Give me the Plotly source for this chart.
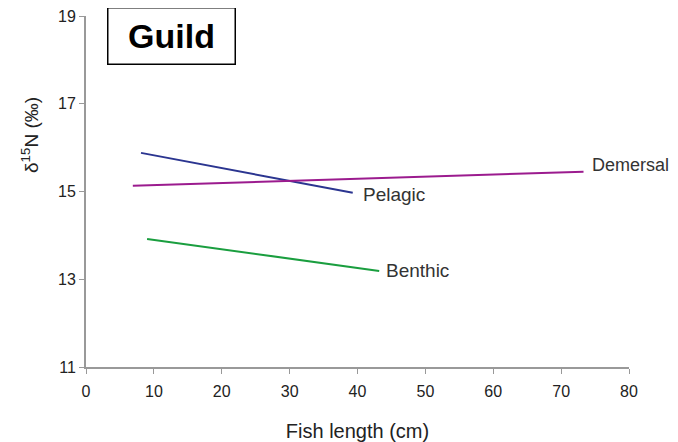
import plotly.graph_objects as go

guilds = ["Pelagic", "Demersal", "Benthic"]
length_start = [8.1, 6.9, 9.0]
length_end = [39.3, 73.3, 43.2]
d15n_start = [15.88, 15.13, 13.92]
d15n_end = [14.97, 15.45, 13.19]
colors = ["#2b3590", "#9b1b8e", "#1a9e3f"]

x_ticks = [0, 10, 20, 30, 40, 50, 60, 70, 80]
y_ticks = [11, 13, 15, 17, 19]

FONT = "Liberation Sans, Arial, sans-serif"
label_shift = {"Pelagic": (8, -2), "Demersal": (6, 7), "Benthic": (5, 0)}

fig = go.Figure()
for g, xs, xe, ys, ye, c in zip(guilds, length_start, length_end, d15n_start, d15n_end, colors):
    fig.add_trace(go.Scatter(x=[xs, xe], y=[ys, ye], mode="lines",
                             line=dict(color=c, width=2), name=g, showlegend=False))
    dx, dy = label_shift[g]
    fig.add_annotation(x=xe, y=ye, text=g, showarrow=False, xanchor="left",
                       yanchor="middle", xshift=dx, yshift=dy,
                       font=dict(family=FONT, size=18 if g == "Demersal" else 19,
                                 color="#333333"))

fig.add_annotation(xref="paper", yref="paper", x=0.1575, y=0.943, text="<b>Guild</b>",
                   showarrow=False, xanchor="center", yanchor="middle",
                   width=126, height=55, borderpad=0, bordercolor="black", borderwidth=1.5,
                   bgcolor="white",
                   font=dict(family=FONT, size=34, color="black"))

fig.add_annotation(xref="paper", yref="paper", x=0, y=0.661, xshift=-56,
                   text="δ<sup>15</sup>N (‰)", textangle=-90, showarrow=False,
                   xanchor="center", yanchor="middle",
                   font=dict(family=FONT, size=19, color="#222222"))

fig.update_layout(
    width=670, height=434,
    margin=dict(l=78, r=49, t=8, b=75, autoexpand=False),
    plot_bgcolor="white", paper_bgcolor="white",
    xaxis=dict(range=[0, 80], tickvals=x_ticks, showline=True, linecolor="#999999",
               linewidth=2, ticks="outside", tickcolor="#999999", ticklen=5,
               showgrid=False, zeroline=False, automargin=False,
               ticklabelstandoff=4, ticklabeloverflow="allow",
               tickfont=dict(family=FONT, size=16, color="#222222"),
               title=dict(text="Fish length (cm)", standoff=26,
                          font=dict(family=FONT, size=20, color="#222222"))),
    yaxis=dict(range=[11, 19], tickvals=y_ticks, showline=True, linecolor="#999999",
               linewidth=2, ticks="outside", tickcolor="#999999", ticklen=5,
               showgrid=False, zeroline=False, automargin=False,
               ticklabeloverflow="allow",
               tickfont=dict(family=FONT, size=16, color="#222222")),
)

fig.write_html("out.html")
